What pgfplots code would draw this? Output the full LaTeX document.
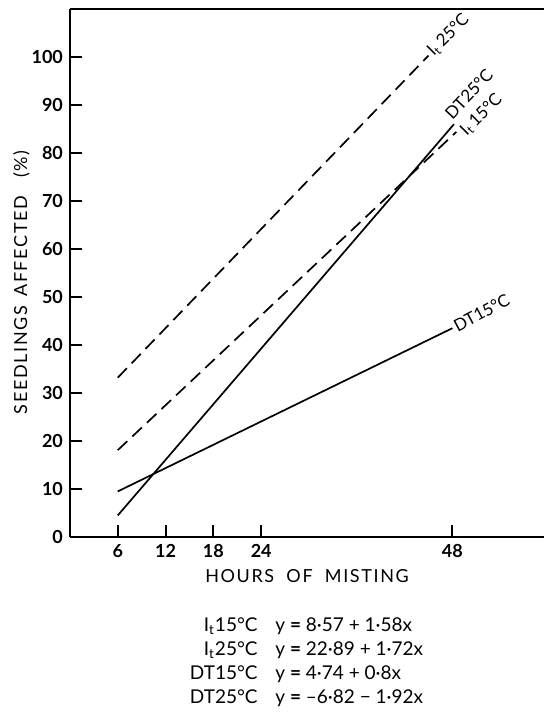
\documentclass[border=0pt]{standalone}
\usepackage{fontspec}
\setmainfont{Lato}
\usepackage{pgfplots}
\pgfplotsset{compat=1.18}
\tikzset{lbl/.style={pos=1, inner sep=1pt, font=\fontsize{8.5}{10}\selectfont}}
\begin{document}
\begin{tikzpicture}
\begin{axis}[
  scale only axis, width=237pt, height=264pt,
  xmin=0, xmax=59.5, ymin=0, ymax=110,
  axis x line*=box, axis y line*=left,
  xtick={6,12,18,24,48}, ytick={0,10,...,100},
  xtick pos=bottom, ytick pos=left,
  tick align=inside, major tick length=6pt,
  tick style={line width=1pt, black},
  axis line style={line width=1.3pt},
  ticklabel style={font=\bfseries\fontsize{9}{10}\selectfont},
  /pgf/number format/assume math mode=true,
  every axis x label/.style={at={(rel axis cs:0.5,-0.0871)}, anchor=base},
  every axis y label/.style={at={(rel axis cs:-0.0907,0.482)}, rotate=90, anchor=base},
  label style={font=\fontsize{9}{10}\selectfont\addfontfeatures{LetterSpace=9}},
  xlabel={HOURS\,\, OF\,\, MISTING},
  ylabel={SEEDLINGS\, AFFECTED\quad (\%)},
  clip=false,
]
\addplot[black, line width=0.85pt, dash pattern=on 6.5pt off 3.5pt]
  coordinates {(6,33.2) (45,100.3)}
  node[lbl, rotate=45, anchor=west] {I\textsubscript{t}\,25°C};
\addplot[black, line width=0.85pt, dash pattern=on 6.5pt off 3.5pt]
  coordinates {(6,18.1) (48.5,84.4)}
  node[lbl, shift={(2.5pt,-1.5pt)}, rotate=45, anchor=west] {I\textsubscript{t}\,15°C};
\addplot[black, line width=0.85pt]
  coordinates {(6,4.5) (48.2,86)}
  node[lbl, shift={(-0.5pt,0pt)}, rotate=47, anchor=south west] {DT25°C};
\addplot[black, line width=0.85pt]
  coordinates {(6,9.5) (48,43.5)}
  node[lbl, rotate=28, anchor=west] {DT15°C};
\end{axis}
\begin{scope}[every node/.style={font=\fontsize{9.5}{11}\selectfont, inner sep=0pt}]
\node[anchor=base east] at ([xshift=94pt, yshift=-47.5pt]current axis.south west) {I\textsubscript{t}15°C};
\node[anchor=base east] at ([xshift=94pt, yshift=-59.35pt]current axis.south west) {I\textsubscript{t}25°C};
\node[anchor=base east] at ([xshift=94pt, yshift=-71.2pt]current axis.south west) {DT15°C};
\node[anchor=base east] at ([xshift=94pt, yshift=-83.05pt]current axis.south west) {DT25°C};
\node[anchor=base west] at ([xshift=102.5pt, yshift=-47.5pt]current axis.south west) {y {\bfseries =} 8·57 + 1·58x};
\node[anchor=base west] at ([xshift=102.5pt, yshift=-59.35pt]current axis.south west) {y {\bfseries =} 22·89 + 1·72x};
\node[anchor=base west] at ([xshift=102.5pt, yshift=-71.2pt]current axis.south west) {y {\bfseries =} 4·74 + 0·8x};
\node[anchor=base west] at ([xshift=102.5pt, yshift=-83.05pt]current axis.south west) {y {\bfseries =} –6·82 − 1·92x};
\end{scope}
\pgfresetboundingbox
\path ([xshift=-35pt, yshift=-89.5pt]current axis.south west) rectangle ([yshift=4.5pt]current axis.north east);
\end{tikzpicture}
\end{document}
